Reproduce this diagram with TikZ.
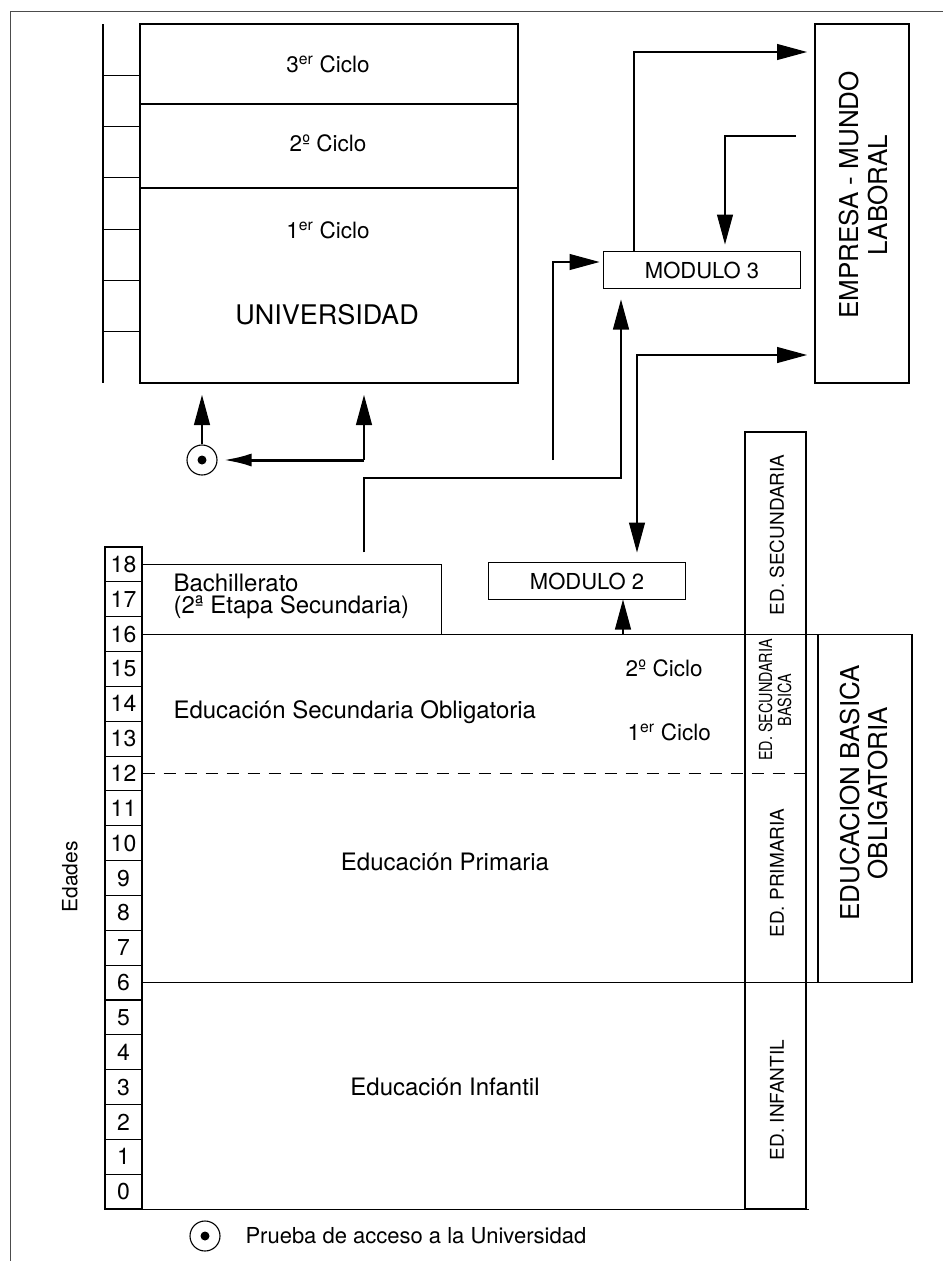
\documentclass[tikz,border=0pt]{standalone}
\usepackage{fontspec}
\setmainfont{TeX Gyre Heros}
\newfontfamily\narrowfont[FakeStretch=0.8]{TeX Gyre Heros}
\usetikzlibrary{arrows.meta}

\begin{document}
\begin{tikzpicture}[
    x = 1pt, y = -1pt,
    line width = 1.1pt,
    > = {Triangle[length=30pt, width=16pt]},
    box/.style = {draw, inner sep=0pt, outer sep=0pt},
    txt/.style = {inner sep=0pt, font=\fontsize{24}{26}\selectfont},
    vtxt/.style = {txt, rotate=90, align=center},
    colfont/.style = {font=\fontsize{19}{21}\selectfont},
    modfont/.style = {font=\fontsize{22}{24}\selectfont},
    cicfont/.style = {font=\fontsize{22.5}{24}\selectfont},
    agebox/.style = {draw, minimum width=37pt, minimum height=34.84pt,
      inner sep=0pt, font=\fontsize{23}{24}\selectfont},
    thickarrow/.style = {line width=3pt, -{Latex[length=28pt, width=13pt]}},
    dashline/.style = {dash pattern=on 12pt off 9pt}
    ]
    \useasboundingbox (0,0) rectangle (943,1261);
    \draw[line width=0.8pt, black!70] (10,1261) -- (10,11) -- (943,11);

    % universidad y edades superiores
    \node[box, anchor=north west, minimum width=378pt, minimum height=359pt] (univ) at (140,24) {};
    \draw (140,104) -- (518,104);
    \draw (140,188) -- (518,188);
    \node[txt, cicfont] (c3) at (328,64) {3\textsuperscript{er} Ciclo};
    \node[txt, cicfont] (c2) at (328,143) {2º Ciclo};
    \node[txt, cicfont] (c1) at (328,230) {1\textsuperscript{er} Ciclo};
    \node[txt, font=\fontsize{27}{30}\selectfont] (uni) at (327,315) {UNIVERSIDAD};
    \draw (103,24) -- (103,383);
    \foreach \k in {1,...,6}
      \draw (103,{24+51.3*\k}) -- ++(37,0);

    \node[box, anchor=north west, minimum width=94pt, minimum height=359pt] (empresa) at (815,24) {};
    \node[vtxt, font=\fontsize{26}{29}\selectfont] (emptxt) at (864,195) {EMPRESA - MUNDO\\LABORAL};

    \node[box, minimum width=197pt, minimum height=37pt, modfont] (mod3) at (702,270) {MODULO 3};
    \node[box, minimum width=197pt, minimum height=37pt, modfont] (mod2) at (587,581) {MODULO 2};

    \node[draw, circle, minimum size=30pt, inner sep=0pt] (pa) at (202,460) {};
    \fill (pa.center) circle (4.5pt);

    % edades
    \foreach \a in {0,...,18}
      \node[agebox] (age\a) at (123.5,{1209-34.84*(\a+0.5)}) {\a};
    \node[vtxt, font=\fontsize{21}{24}\selectfont] (edades) at (70,877) {Edades};

    % etapas
    \node[box, anchor=north west, minimum width=299pt, minimum height=69.7pt] (bach) at (age18.east) {};
    \node[txt, anchor=west, align=left, font=\fontsize{24}{22}\selectfont] (bachtxt) at (173,596)
      {Bachillerato\\(2ª Etapa Secundaria)};
    \draw (age16.east) -- ++(770,0);
    \draw[dashline] (age12.east) -- ++(663,0);
    \draw (age6.east) -- ++(770,0);
    \draw (age0.south east) -- ++(666,0);
    \draw (745,432) rectangle (806,1209);
    \draw (818,634.1) rectangle (912,982.5);

    \node[txt, anchor=west] (eso) at (173,712) {Educación Secundaria Obligatoria};
    \node[txt, anchor=west, cicfont] (eso2) at (625,668) {2º Ciclo};
    \node[txt, anchor=west, cicfont] (eso1) at (627,732) {1\textsuperscript{er} Ciclo};
    \node[txt] (prim) at (445,862) {Educación Primaria};
    \node[txt] (inf) at (445,1087) {Educación Infantil};

    \node[vtxt, colfont] (edsec) at (777,535) {ED. SECUNDARIA};
    \node[vtxt, font=\narrowfont\fontsize{18}{19}\selectfont] (edsecb) at (775,700) {ED. SECUNDARIA\\BASICA};
    \node[vtxt, colfont] (edprim) at (777,873) {ED. PRIMARIA};
    \node[vtxt, colfont] (edinf) at (777,1100) {ED. INFANTIL};
    \node[vtxt, font=\fontsize{26}{28}\selectfont] (ebo) at (864,793) {EDUCACION BASICA\\OBLIGATORIA};

    % flechas
    \coordinate (jn) at (364,460);
    \coordinate (turn) at (621,478);
    \coordinate (s3) at (553,460);
    \coordinate (e16) at (623,634.1);
    \draw[->, shorten >=12pt] (pa) -- (pa |- univ.south);
    \draw[->, shorten >=12pt] (jn) -- (jn |- univ.south);
    \draw[thickarrow, shorten >=6pt] (jn) -- (pa);
    \draw[->, shorten <=12pt, shorten >=11pt] (bach.north -| jn) |- (turn) -- (turn |- mod3.south);
    \draw[->, shorten >=4pt] (s3) |- ([yshift=8pt]mod3.west);
    \draw[->, shorten >=8pt] ([xshift=-68pt]mod3.north) |- ([yshift=-28pt]empresa.north west);
    \draw[->, shorten >=7pt] ([xshift=-19pt, yshift=-112pt]empresa.north west) -| ([xshift=23pt]mod3.north);
    \draw[<->, shorten <=10pt, shorten >=8pt] ([xshift=50pt]mod2.north) |- ([yshift=28pt]empresa.south west);
    \draw[->] (e16) -- (e16 |- mod2.south);

    % leyenda
    \node[draw, circle, minimum size=30pt, inner sep=0pt] (leg) at (205,1236) {};
    \fill (leg.center) circle (4.5pt);
    \node[txt, anchor=west, font=\fontsize{22}{24}\selectfont] (legtxt) at (245,1236) {Prueba de acceso a la Universidad};
\end{tikzpicture}
\end{document}
